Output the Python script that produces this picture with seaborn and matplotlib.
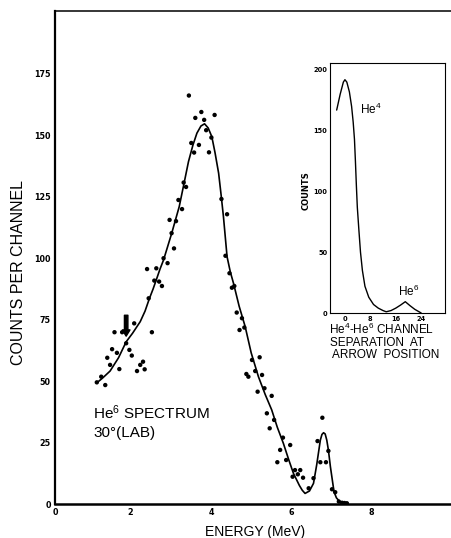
import matplotlib
matplotlib.use("Agg")
import matplotlib.pyplot as plt
import seaborn as sns
import numpy as np
import pandas as pd

# measured points (energy MeV, counts per channel)
energy = [1.16, 1.27, 1.37, 1.42, 1.49, 1.54, 1.60, 1.66, 1.72, 1.79, 1.89, 1.97,
          2.03, 2.09, 2.16, 2.24, 2.31, 2.35, 2.41, 2.45, 2.53, 2.59, 2.64, 2.71,
          2.78, 2.82, 2.92, 2.97, 3.02, 3.08, 3.13, 3.19, 3.28, 3.32, 3.38, 3.45,
          3.51, 3.58, 3.61, 3.70, 3.76, 3.83, 3.88, 3.95, 4.01, 4.09, 4.26, 4.40,
          4.36, 4.46, 4.52, 4.58, 4.64, 4.71, 4.77, 4.83, 4.88, 4.93, 5.02, 5.10,
          5.16, 5.21, 5.27, 5.33, 5.39, 5.46, 5.51, 5.57, 5.65, 5.72, 5.79, 5.87,
          5.97, 6.03, 6.09, 6.16, 6.22, 6.29, 6.43, 6.55, 6.65, 6.72, 6.77, 6.86,
          6.92, 7.01, 7.09, 7.18, 7.26, 7.32, 7.38]
counts = [49.5, 51.8, 48.4, 59.5, 56.6, 63, 69.9, 61.5, 54.9, 69.9, 65.4, 62.7,
          60.4, 73.5, 54.1, 56.6, 57.9, 54.8, 95.6, 83.7, 69.9, 90.9, 95.9, 90.5,
          88.7, 100, 98, 115.6, 110.2, 104, 115.1, 123.7, 120, 130.8, 129, 166.2,
          146.9, 143, 157.1, 146.1, 159.5, 156.3, 152.1, 143.1, 149.1, 158.3, 124.1, 117.9,
          101, 93.9, 88, 88.7, 77.9, 70.8, 75.6, 71.8, 52.9, 51.8, 58.6, 54.1,
          45.7, 59.7, 52.5, 47.1, 36.9, 30.8, 44, 34.2, 17, 22, 27, 17.9,
          24, 11.1, 13.8, 12.1, 13.8, 10.7, 6.4, 10.5, 25.6, 17, 35.1, 17,
          21.6, 6, 4.8, 1, 0.5, 0.4, 0.3]

# smooth curve
fit_energy = [1.16, 1.30, 1.49, 1.70, 1.89, 2.05, 2.24, 2.36, 2.47, 2.56, 2.65, 2.73,
              2.82, 3.02, 3.21, 3.33, 3.44, 3.55, 3.65, 3.75, 3.84, 3.93, 4.02, 4.10,
              4.19, 4.25, 4.31, 4.40, 4.48, 4.56, 4.70, 4.85, 5.00, 5.18, 5.35, 5.51,
              5.65, 5.80, 5.93, 6.05, 6.20, 6.27, 6.34, 6.45, 6.55, 6.63, 6.72, 6.76,
              6.80, 6.84, 6.88, 6.92, 6.97, 7.06, 7.12, 7.20, 7.35]
fit_counts = [49.3, 51.2, 54.1, 59.5, 66, 69.5, 74.2, 78.5, 83.7, 87.5, 91.7, 95.5,
              99.3, 110, 121, 130.5, 139.3, 146, 150.9, 153.8, 154.7, 153, 149.5, 143,
              134.6, 126, 116.9, 100.6, 94.5, 89.8, 80.5, 72.2, 61.5, 51.8, 44.5, 38.3,
              31.2, 24.7, 18.2, 12.5, 7.5, 5.6, 4.3, 5.3, 8.4, 16, 26, 28.3,
              29, 28.5, 26, 22, 15.2, 5, 2.5, 1, 0]

# inset: He4-He6 channel separation
channel = [-2.6, -1.5, -0.5, 0, 0.6, 1.4, 2.1, 2.6, 3.0, 3.3, 3.6, 3.9, 4.4, 4.9, 5.5,
           6.3, 7.5, 9, 10.5, 12, 13, 14.5, 16, 17.5, 19, 20.5, 22, 24]
chan_counts = [167, 180, 190, 192, 190, 182, 170, 157, 143, 125, 105, 87, 68, 50, 35,
               22, 13, 7, 4, 2, 1, 2, 4, 6.5, 9.3, 6, 3, 0]

main_yticks = [0, 25, 50, 75, 100, 125, 150, 175]
inset_yticks = [0, 50, 100, 150, 200]
inset_xticks = [0, 8, 16, 24]

sns.set_style("white")
plt.rcParams["font.family"] = ["Liberation Sans", "DejaVu Sans"]
plt.rcParams["text.color"] = "black"
plt.rcParams["axes.labelcolor"] = "black"
plt.rcParams["mathtext.fontset"] = "custom"
plt.rcParams["mathtext.rm"] = "Liberation Sans"
plt.rcParams["mathtext.it"] = "Liberation Sans"

fig = plt.figure(figsize=(4.51, 5.38), dpi=100)
ax = fig.add_axes([55 / 451, 1 - 504 / 538, 396 / 451, 493 / 538])

df = pd.DataFrame({"E": energy, "C": counts})
fit = pd.DataFrame({"E": fit_energy, "C": fit_counts})
sns.scatterplot(data=df, x="E", y="C", ax=ax, s=10, color="black", edgecolor="none")
sns.lineplot(data=fit, x="E", y="C", ax=ax, color="black", lw=1.2, sort=False)

ax.set_xlim(0.12, 9.97)
ax.set_ylim(0, 200.6)
ax.set_xticks([0.12, 2, 4, 6, 8], labels=["0", "2", "4", "6", "8"])
ax.set_yticks(main_yticks)
ax.tick_params(direction="in", length=4, width=0.8, labelsize=5.8, pad=3,
               colors="black")
for lab in ax.get_xticklabels() + ax.get_yticklabels():
    lab.set_fontweight("bold")
    lab.set_family("DejaVu Sans")
ax.spines["right"].set_visible(False)
ax.spines["left"].set_linewidth(1.6)
ax.spines["bottom"].set_linewidth(1.8)
ax.spines["top"].set_linewidth(1.1)
for s in ax.spines.values():
    s.set_color("black")

ax.set_xlabel("ENERGY (MeV)", fontsize=10)
ax.xaxis.set_label_coords(0.505, -0.043)
ax.set_ylabel("COUNTS PER CHANNEL", fontsize=11.5)
ax.yaxis.set_label_coords(-0.073, 0.47)

ax.text(1.07, 34.5, "He$^6$ SPECTRUM", fontsize=11, va="baseline")
ax.text(1.07, 27.3, "30°(LAB)", fontsize=11, va="baseline")

ax.annotate("", xy=(1.89, 68.3), xytext=(1.89, 76.8),
            arrowprops=dict(arrowstyle="simple,head_length=0.45,head_width=0.55,tail_width=0.25",
                            color="black", mutation_scale=10, shrinkA=0, shrinkB=0))

# inset
axin = fig.add_axes([330 / 451, 1 - 313 / 538, 115 / 451, 249.7 / 538])
ins = pd.DataFrame({"ch": channel, "n": chan_counts})
sns.lineplot(data=ins, x="ch", y="n", ax=axin, color="black", lw=1.0, sort=False)
axin.set_xlim(-4.7, 31.5)
axin.set_ylim(0, 205.5)
axin.set_xticks(inset_xticks)
axin.set_yticks(inset_yticks)
axin.tick_params(direction="in", length=2.5, width=0.6, labelsize=4.8, pad=2,
                 colors="black")
for lab in axin.get_xticklabels() + axin.get_yticklabels():
    lab.set_fontweight("bold")
    lab.set_family("DejaVu Sans")
for s in axin.spines.values():
    s.set_linewidth(0.8)
    s.set_color("black")
axin.set_xlabel("")
axin.set_ylabel("COUNTS", fontsize=6, fontweight="bold", family="DejaVu Sans")
axin.yaxis.set_label_coords(-0.17, 0.49)
axin.text(4.7, 164, "He$^4$", fontsize=8.5, va="baseline")
axin.text(16.7, 14, "He$^6$", fontsize=8.5, va="baseline")

fig.text(329 / 451, 1 - 334 / 538, "He$^4$-He$^6$ CHANNEL", fontsize=8.5)
fig.text(330 / 451, 1 - 345.7 / 538, "SEPARATION  AT", fontsize=8.5)
fig.text(332 / 451, 1 - 358.3 / 538, "ARROW  POSITION", fontsize=8.5)

fig.savefig("out.png", dpi=100)
